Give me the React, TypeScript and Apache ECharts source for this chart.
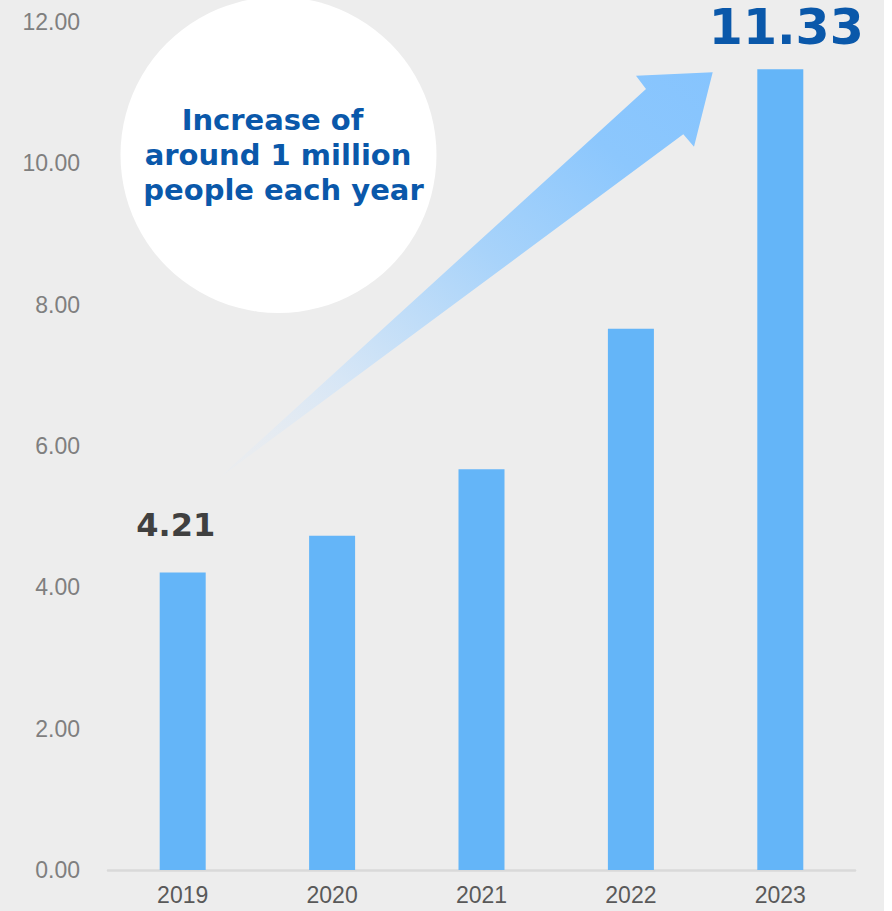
import React, { useEffect, useRef } from "react";
import * as echarts from "echarts";

const categories = ["2019", "2020", "2021", "2022", "2023"];
const values = [4.21, 4.73, 5.67, 7.66, 11.33];
const yTicks = { min: 0, max: 12, interval: 2 };
const calloutLines = ["Increase of", "around 1 million", "people each year"];

export default function App() {
  const ref = useRef<HTMLDivElement>(null);
  useEffect(() => {
    if (!ref.current) return;
    const chart = echarts.init(ref.current, null, { renderer: "svg" });
    const last = values.length - 1;
    const data = values.map((v, i) => {
      if (i === 0) {
        return {
          value: v,
          label: {
            show: true,
            position: "top",
            distance: 0,
            offset: [-7, -31],
            fontFamily: "DejaVu Sans",
            fontWeight: "bold",
            fontSize: 32,
            color: "#404040",
            formatter: (p: any) => Number(p.value).toFixed(2),
          },
        };
      }
      if (i === last) {
        return {
          value: v,
          label: {
            show: true,
            position: "top",
            distance: 0,
            offset: [6, -17],
            fontFamily: "DejaVu Sans",
            fontWeight: "bold",
            fontSize: 49,
            color: "#0A58AA",
            formatter: (p: any) => Number(p.value).toFixed(2),
          },
        };
      }
      return { value: v };
    });

    const arrowFill = new echarts.graphic.LinearGradient(0, 1, 1, 0, [
      { offset: 0, color: "rgba(230,236,244,0.2)" },
      { offset: 0.25, color: "#D6E6F6" },
      { offset: 0.55, color: "#A8D3FA" },
      { offset: 0.8, color: "#8CC7FD" },
      { offset: 1, color: "#86C4FE" },
    ]);

    const calloutText = (text: string, x: number, y: number) => ({
      type: "text",
      z: 2,
      x,
      y,
      style: {
        text,
        fontFamily: "DejaVu Sans",
        fontWeight: "bold",
        fontSize: 29,
        fill: "#0A58AA",
        align: "center",
        verticalAlign: "middle",
      },
    });

    chart.setOption({
      animation: false,
      backgroundColor: "#EDEDED",
      grid: { left: 108, right: 37, top: 22, bottom: 41 },
      xAxis: {
        type: "category",
        data: categories,
        axisLine: { show: true, lineStyle: { color: "#D9D9D9", width: 2.5 } },
        axisTick: { show: false },
        axisLabel: {
          color: "#595959",
          fontSize: 23,
          fontFamily: "Liberation Sans",
          margin: 13,
        },
      },
      yAxis: {
        type: "value",
        min: yTicks.min,
        max: yTicks.max,
        interval: yTicks.interval,
        splitLine: { show: false },
        axisLine: { show: false },
        axisTick: { show: false },
        axisLabel: {
          color: "#7F7F7F",
          fontSize: 23,
          fontFamily: "Liberation Sans",
          margin: 28,
          formatter: (v: number) => v.toFixed(2),
        },
      },
      graphic: [
        {
          type: "rect",
          z: 100,
          shape: { x: 884, y: 0, width: 8, height: 911 },
          style: { fill: "#FFFFFF" },
        },
        {
          type: "circle",
          z: 1,
          shape: { cx: 278.5, cy: 155, r: 158 },
          style: { fill: "#FFFFFF" },
        },
        calloutText(calloutLines[0], 272.5, 120),
        calloutText(calloutLines[1], 278, 155),
        calloutText(calloutLines[2], 283.5, 190),
        {
          type: "polygon",
          z: 1,
          shape: {
            points: [
              [218, 479],
              [646, 89],
              [636, 75.7],
              [712.7, 72.3],
              [694, 146.7],
              [683.3, 134.3],
            ],
          },
          style: { fill: arrowFill },
        },
      ],
      series: [
        {
          type: "bar",
          data,
          barWidth: 46,
          itemStyle: { color: "#64B5F8" },
        },
      ],
    });
    return () => chart.dispose();
  }, []);
  return (
    <div
      ref={ref}
      style={{ position: "fixed", left: 0, top: 0, width: 892, height: 911 }}
    />
  );
}
